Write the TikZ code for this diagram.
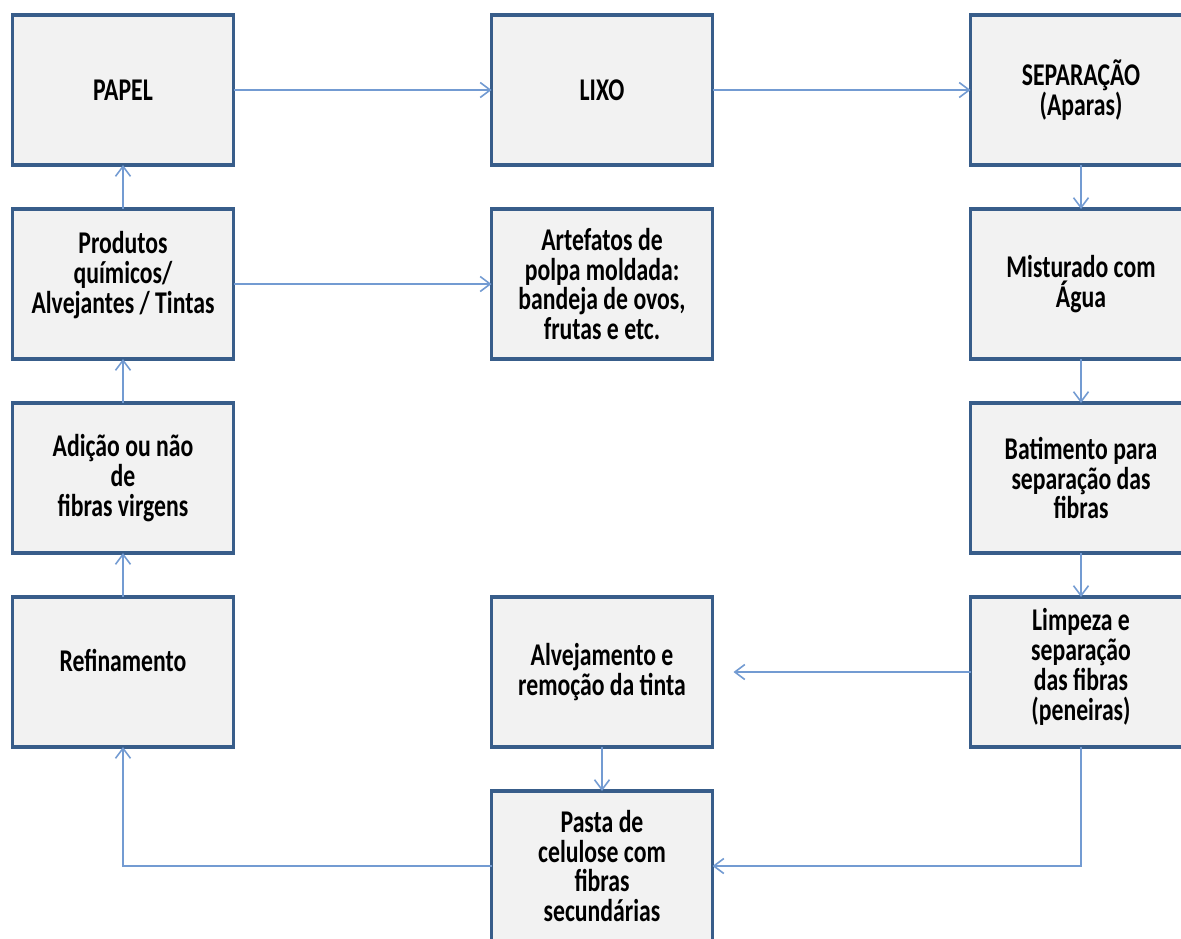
\documentclass[tikz,border=0pt]{standalone}
\usepackage{fontspec}
\setmainfont{Carlito}[FakeStretch=0.75]
\usetikzlibrary{arrows.meta}
\usetikzlibrary{positioning}
\definecolor{boxline}{HTML}{385D8A}
\definecolor{boxfill}{HTML}{F2F2F2}
\definecolor{flowline}{HTML}{739BD2}
\tikzset{
  etapa/.style = {rectangle, draw=boxline, fill=boxfill, line width=2.2pt,
    minimum width=4.42cm, minimum height=3cm, align=center, outer sep=0pt,
    font=\fontsize{18}{17}\selectfont\bfseries},% caixa de etapa
  sobe/.style = {text depth=0.45cm},% texto um pouco acima do centro
  fluxo/.style = {draw=flowline, line width=0.9pt,
    -{Straight Barb[length=0.2cm,width=0.3cm]}}% seta do fluxo
}

\begin{document}
\begin{tikzpicture}[node distance=0.88cm and 5.16cm]
\useasboundingbox (0,0) rectangle (23.62,-18.76);
\clip (0,0) rectangle (23.62,-18.76);
\node [etapa] (papel) at (2.46,-1.8) {PAPEL};
\node [etapa, right=of papel] (lixo) {LIXO};
\node [etapa, right=of lixo] (separacao) {SEPARAÇÃO\\(Aparas)};
\node [etapa, sobe, below=of papel] (produtos) {Produtos\\químicos/\\Alvejantes / Tintas};
\node [etapa, below=of lixo] (artefatos) {Artefatos de\\polpa moldada:\\bandeja de ovos,\\frutas e etc.};
\node [etapa, below=of separacao] (misturado) {Misturado com\\Água};
\node [etapa, below=of produtos] (adicao) {Adição ou não\\de\\fibras virgens};
\node [etapa, below=of misturado] (batimento) {Batimento para\\separação das\\fibras};
\node [etapa, sobe, below=of adicao] (refino) {Refinamento};
\node [etapa, right=of refino] (alvejamento) {Alvejamento e\\remoção da tinta};
\node [etapa, text depth=0.3cm, below=of batimento] (limpeza) {Limpeza e\\separação\\das fibras\\(peneiras)};
\node [etapa, below=of alvejamento] (pasta) {Pasta de\\celulose com\\fibras\\secundárias};

\draw [fluxo] (papel) -- (lixo);
\draw [fluxo] (lixo) -- (separacao);
\draw [fluxo] (produtos) -- (artefatos);
\draw [fluxo] (produtos) -- (papel);
\draw [fluxo] (adicao) -- (produtos);
\draw [fluxo] (refino) -- (adicao);
\draw [fluxo] (separacao) -- (misturado);
\draw [fluxo] (misturado) -- (batimento);
\draw [fluxo] (batimento) -- (limpeza);
\draw [fluxo, shorten >=0.42cm] (limpeza) -- (alvejamento);
\draw [fluxo] (alvejamento) -- (pasta);
\draw [fluxo] (limpeza) |- (pasta);
\draw [fluxo] (pasta) -| (refino);
\end{tikzpicture}
\end{document}
